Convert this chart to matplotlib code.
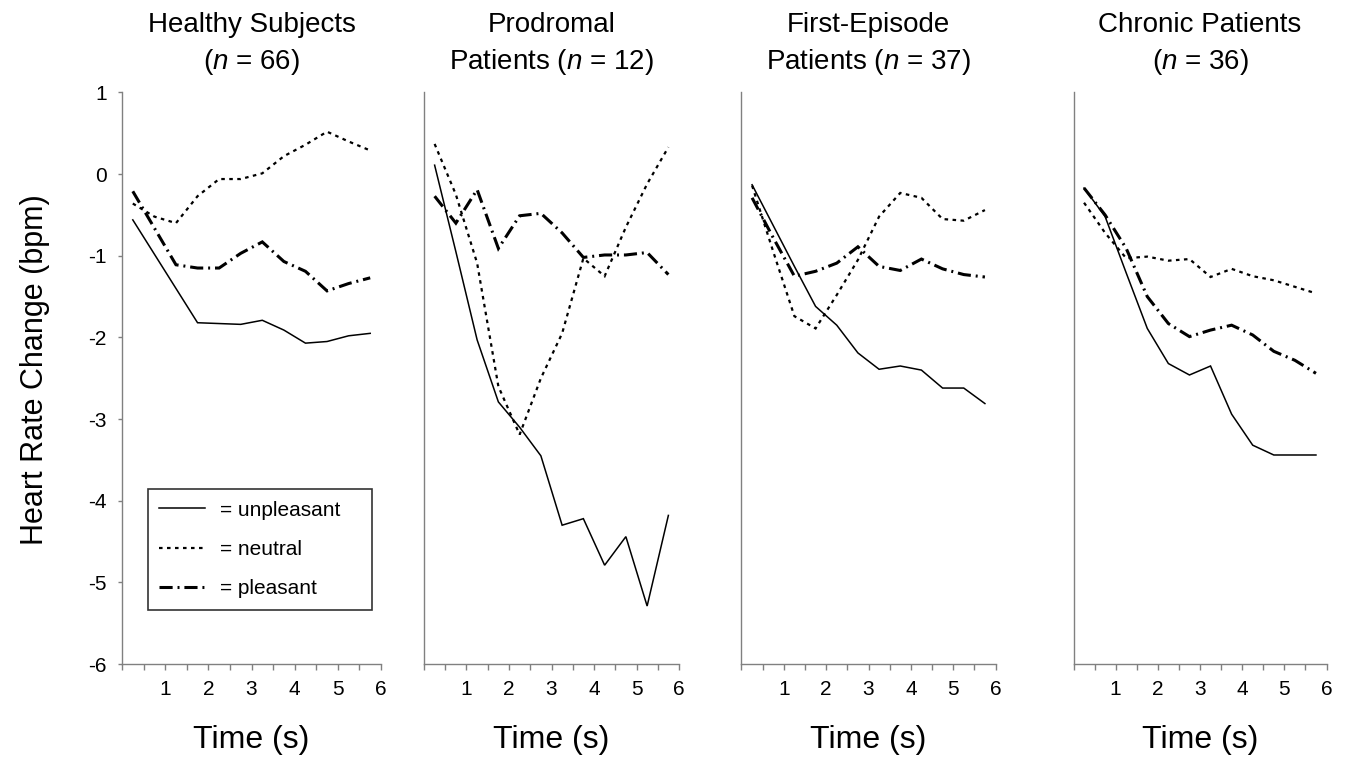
import matplotlib
matplotlib.use('Agg')
import matplotlib.pyplot as plt
from matplotlib.ticker import FixedLocator, FuncFormatter

plt.rcParams['font.family'] = ['Liberation Sans', 'DejaVu Sans']
plt.rcParams['mathtext.fontset'] = 'custom'
plt.rcParams['mathtext.rm'] = 'Liberation Sans'
plt.rcParams['mathtext.it'] = 'Liberation Sans:italic'
plt.rcParams['axes.unicode_minus'] = False

# ---------------- data ----------------
time_s = [0.25, 0.75, 1.25, 1.75, 2.25, 2.75, 3.25, 3.75, 4.25, 4.75, 5.25, 5.75]

title_line1 = ['Healthy Subjects', 'Prodromal', 'First-Episode', 'Chronic Patients']
title_prefix2 = ['', 'Patients ', 'Patients ', '']
group_n = [66, 12, 37, 36]

healthy_unpleasant = [-0.56, -0.98, -1.40, -1.82, -1.83, -1.84, -1.79, -1.91, -2.07, -2.05, -1.98, -1.95]
healthy_neutral    = [-0.36, -0.52, -0.60, -0.27, -0.06, -0.06, 0.01, 0.22, 0.36, 0.52, 0.40, 0.29]
healthy_pleasant   = [-0.21, -0.66, -1.11, -1.15, -1.15, -0.97, -0.83, -1.07, -1.19, -1.43, -1.34, -1.27]

prodromal_unpleasant = [0.11, -0.95, -2.03, -2.79, -3.10, -3.45, -4.30, -4.22, -4.79, -4.44, -5.29, -4.18]
prodromal_neutral    = [0.37, -0.25, -1.09, -2.60, -3.19, -2.50, -1.95, -1.03, -1.25, -0.65, -0.12, 0.33]
prodromal_pleasant   = [-0.27, -0.60, -0.19, -0.91, -0.51, -0.48, -0.72, -1.02, -0.99, -0.99, -0.96, -1.23]

first_unpleasant = [-0.13, -0.63, -1.13, -1.62, -1.85, -2.19, -2.39, -2.35, -2.40, -2.62, -2.62, -2.81]
first_neutral    = [-0.14, -0.95, -1.74, -1.89, -1.48, -1.05, -0.52, -0.23, -0.29, -0.55, -0.57, -0.44]
first_pleasant   = [-0.29, -0.78, -1.25, -1.19, -1.09, -0.89, -1.13, -1.18, -1.04, -1.16, -1.23, -1.26]

chronic_unpleasant = [-0.17, -0.52, -1.21, -1.89, -2.32, -2.46, -2.35, -2.94, -3.32, -3.44, -3.44, -3.44]
chronic_neutral    = [-0.35, -0.72, -1.03, -1.01, -1.06, -1.04, -1.26, -1.16, -1.25, -1.30, -1.38, -1.46]
chronic_pleasant   = [-0.17, -0.50, -0.91, -1.50, -1.83, -1.99, -1.91, -1.85, -1.97, -2.17, -2.28, -2.44]

condition_labels = ['= unpleasant', '= neutral', '= pleasant']
y_ticks = [-6, -5, -4, -3, -2, -1, 0, 1]
x_major = [0, 1, 2, 3, 4, 5, 6]
x_minor = [0.5, 1.5, 2.5, 3.5, 4.5, 5.5]

panels = [
    (healthy_unpleasant, healthy_neutral, healthy_pleasant),
    (prodromal_unpleasant, prodromal_neutral, prodromal_pleasant),
    (first_unpleasant, first_neutral, first_pleasant),
    (chronic_unpleasant, chronic_neutral, chronic_pleasant),
]

# ---------------- styles ----------------
styles = [
    dict(color='black', lw=1.1, linestyle='-'),
    dict(color='black', lw=1.6, linestyle=(0, (1.6, 2.0))),
    dict(color='black', lw=2.2, linestyle=(0, (4.3, 1.6, 0.65, 1.6))),
]
AX_COLOR = '#808080'

W, H = 1362, 767
fig = plt.figure(figsize=(W / 100, H / 100), dpi=100)

# axes layout in pixels: (left, width)
px_lefts = [122, 424, 741.5, 1073.5]
px_widths = [259, 255, 254, 253]
px_top, px_bottom = 92.5, 664

def fx(px):
    return px / W

def fy(py):
    return 1 - py / H

for i, (pl, pw) in enumerate(zip(px_lefts, px_widths)):
    ax = fig.add_axes([fx(pl), fy(px_bottom), fx(pw), (px_bottom - px_top) / H])
    lines = []
    for series, st in zip(panels[i], styles):
        ln, = ax.plot(time_s, series, solid_joinstyle='miter', dash_joinstyle='miter',
                      dash_capstyle='butt', **st)
        lines.append(ln)
    ax.set_xlim(0, 6)
    ax.set_ylim(-6, 1)
    for s in ['top', 'right']:
        ax.spines[s].set_visible(False)
    for s in ['left', 'bottom']:
        ax.spines[s].set_color(AX_COLOR)
        ax.spines[s].set_linewidth(1.0)

    ax.xaxis.set_major_locator(FixedLocator(x_major))
    ax.xaxis.set_minor_locator(FixedLocator(x_minor))
    ax.xaxis.set_major_formatter(FuncFormatter(lambda v, p: '' if v == 0 else f'{int(v)}'))
    ax.tick_params(axis='x', which='both', direction='out', length=4.3, width=1.0,
                   color=AX_COLOR, labelsize=15, pad=7.5, labelcolor='black')

    if i == 0:
        ax.yaxis.set_major_locator(FixedLocator(y_ticks))
        ax.yaxis.set_major_formatter(FuncFormatter(lambda v, p: f'{int(v)}'))
        ax.tick_params(axis='y', direction='out', length=3.0, width=1.0,
                       color=AX_COLOR, labelsize=15, pad=8.0, labelcolor='black')
        leg = ax.legend(lines, condition_labels, loc='lower left',
                        bbox_to_anchor=(0.10, 0.0947, 0.865, 0.21), mode='expand',
                        frameon=True, fancybox=False, edgecolor='black',
                        fontsize=15, handlelength=2.2, handletextpad=0.72,
                        labelspacing=0.98, borderpad=0.55, borderaxespad=0.0)
        leg.get_frame().set_linewidth(1.2)
    else:
        ax.set_yticks([])

    cx = fx(pl + pw / 2)
    fig.text(cx, fy(32), title_line1[i], ha='center', va='baseline', fontsize=20)
    fig.text(cx, fy(69), title_prefix2[i] + '($\\mathit{n}$ = ' + str(group_n[i]) + ')',
             ha='center', va='baseline', fontsize=20)
    fig.text(cx, fy(740), 'Time (s)', ha='center', va='center', fontsize=23)

fig.text(fx(35), fy(370), 'Heart Rate Change (bpm)', rotation=90,
         ha='center', va='center', fontsize=22)

fig.savefig('out.png', dpi=100)
